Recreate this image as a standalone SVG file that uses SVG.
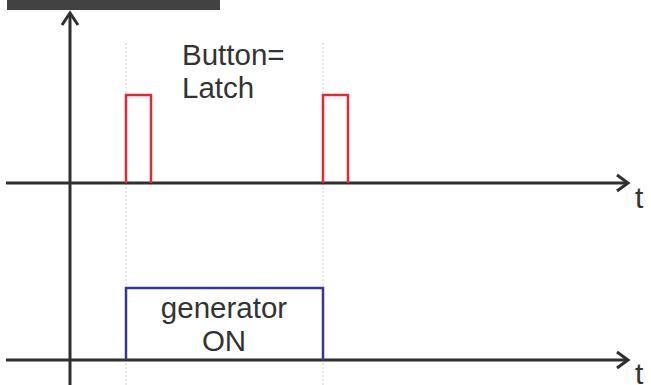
<svg xmlns="http://www.w3.org/2000/svg" width="651" height="385" viewBox="0 0 651 385">
<style>
.axis{stroke:#2f2f2f;stroke-width:3;fill:none}
.head{stroke:#2f2f2f;stroke-width:3;fill:none;stroke-linejoin:miter}
.guide{stroke:#d0d0d0;stroke-width:1;stroke-dasharray:2 2;fill:none}
.pulse{stroke:#e8272d;stroke-width:2.5;fill:none}
.gen{stroke:#36359a;stroke-width:2.5;fill:none}
.lbl{font-family:"Liberation Sans",Arial,sans-serif;font-size:29.5px;fill:#333}
.tl{font-family:"Liberation Sans",Arial,sans-serif;font-size:30px;fill:#333}
</style>
<rect x="0" y="0" width="651" height="385" fill="#fff"/>
<rect x="7" y="0" width="213" height="10" fill="#424242"/>
<g id="guides">
<line class="guide" x1="126" y1="43" x2="126" y2="385"/>
<line class="guide" x1="323" y1="43" x2="323" y2="385"/>
</g>
<g id="connectors">
<line class="axis" x1="70" y1="13" x2="70" y2="385"/>
<polyline class="head" points="62,25 70,13 78,25"/>
<line class="axis" x1="6" y1="183" x2="626" y2="183"/>
<polyline class="head" points="617,175 628,183 617,191"/>
<line class="axis" x1="6" y1="360" x2="626" y2="360"/>
<polyline class="head" points="617,352 628,360 617,368"/>
</g>
<g id="pulse1"><polyline class="pulse" points="126,183 126,95 151,95 151,183"/></g>
<g id="pulse2"><polyline class="pulse" points="323,183 323,95 348,95 348,183"/></g>
<g id="generator"><polyline class="gen" points="126,360 126,288 323,288 323,360"/>
<text class="lbl" x="224" y="318" text-anchor="middle">generator</text>
<text class="lbl" x="224" y="351" text-anchor="middle">ON</text></g>
<g id="label-button">
<text class="lbl" x="182" y="65">Button=</text>
<text class="lbl" x="182" y="98">Latch</text></g>
<g id="t1"><text class="tl" x="635" y="208">t</text></g>
<g id="t2"><text class="tl" x="635" y="384">t</text></g>
</svg>
